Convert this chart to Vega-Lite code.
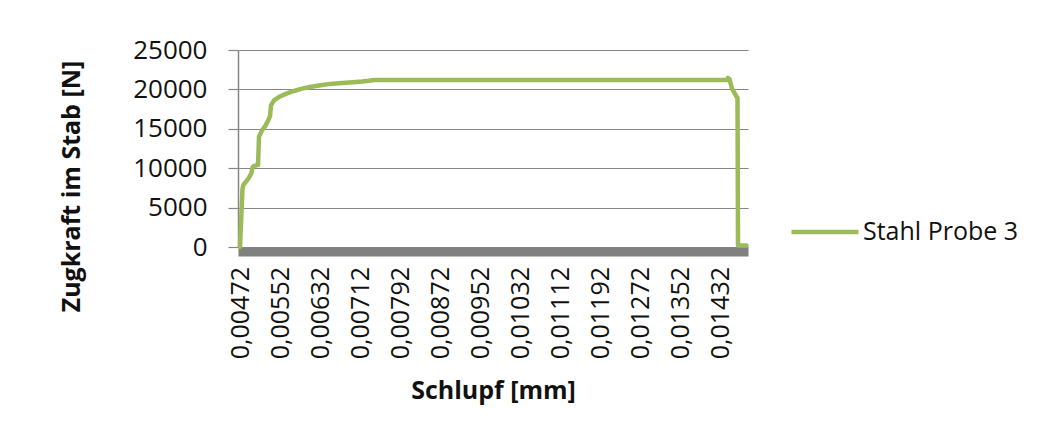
{
  "$schema": "https://vega.github.io/schema/vega-lite/v6.json",
  "width": 510,
  "height": 197,
  "autosize": {"type": "none"},
  "padding": {"left": 238, "top": 50, "right": 302, "bottom": 198},
  "background": "white",
  "config": {"view": {"stroke": null}, "font": "Open Sans"},
  "data": {
    "values": [
      {"schlupf": 0.00472, "kraft": 0, "serie": "Stahl Probe 3"},
      {"schlupf": 0.00477, "kraft": 7400, "serie": "Stahl Probe 3"},
      {"schlupf": 0.00479, "kraft": 7900, "serie": "Stahl Probe 3"},
      {"schlupf": 0.00484, "kraft": 8300, "serie": "Stahl Probe 3"},
      {"schlupf": 0.00490, "kraft": 8800, "serie": "Stahl Probe 3"},
      {"schlupf": 0.00495, "kraft": 9400, "serie": "Stahl Probe 3"},
      {"schlupf": 0.00497, "kraft": 10100, "serie": "Stahl Probe 3"},
      {"schlupf": 0.00500, "kraft": 10300, "serie": "Stahl Probe 3"},
      {"schlupf": 0.00508, "kraft": 10400, "serie": "Stahl Probe 3"},
      {"schlupf": 0.00510, "kraft": 14000, "serie": "Stahl Probe 3"},
      {"schlupf": 0.00516, "kraft": 14800, "serie": "Stahl Probe 3"},
      {"schlupf": 0.00522, "kraft": 15300, "serie": "Stahl Probe 3"},
      {"schlupf": 0.00528, "kraft": 16000, "serie": "Stahl Probe 3"},
      {"schlupf": 0.00532, "kraft": 16600, "serie": "Stahl Probe 3"},
      {"schlupf": 0.00534, "kraft": 18000, "serie": "Stahl Probe 3"},
      {"schlupf": 0.00540, "kraft": 18600, "serie": "Stahl Probe 3"},
      {"schlupf": 0.00552, "kraft": 19100, "serie": "Stahl Probe 3"},
      {"schlupf": 0.00566, "kraft": 19500, "serie": "Stahl Probe 3"},
      {"schlupf": 0.00580, "kraft": 19800, "serie": "Stahl Probe 3"},
      {"schlupf": 0.00596, "kraft": 20100, "serie": "Stahl Probe 3"},
      {"schlupf": 0.00612, "kraft": 20300, "serie": "Stahl Probe 3"},
      {"schlupf": 0.00630, "kraft": 20500, "serie": "Stahl Probe 3"},
      {"schlupf": 0.00652, "kraft": 20700, "serie": "Stahl Probe 3"},
      {"schlupf": 0.00676, "kraft": 20800, "serie": "Stahl Probe 3"},
      {"schlupf": 0.00698, "kraft": 20900, "serie": "Stahl Probe 3"},
      {"schlupf": 0.00716, "kraft": 21000, "serie": "Stahl Probe 3"},
      {"schlupf": 0.00730, "kraft": 21100, "serie": "Stahl Probe 3"},
      {"schlupf": 0.00740, "kraft": 21200, "serie": "Stahl Probe 3"},
      {"schlupf": 0.01446, "kraft": 21200, "serie": "Stahl Probe 3"},
      {"schlupf": 0.01448, "kraft": 21450, "serie": "Stahl Probe 3"},
      {"schlupf": 0.01451, "kraft": 21300, "serie": "Stahl Probe 3"},
      {"schlupf": 0.01456, "kraft": 20100, "serie": "Stahl Probe 3"},
      {"schlupf": 0.01464, "kraft": 19200, "serie": "Stahl Probe 3"},
      {"schlupf": 0.01467, "kraft": 18900, "serie": "Stahl Probe 3"},
      {"schlupf": 0.01468, "kraft": 200, "serie": "Stahl Probe 3"},
      {"schlupf": 0.01485, "kraft": 200, "serie": "Stahl Probe 3"}
    ]
  },
  "mark": {"type": "line", "strokeWidth": 4.5, "strokeJoin": "round", "strokeCap": "round"},
  "encoding": {
    "x": {
      "field": "schlupf",
      "type": "quantitative",
      "scale": {"domain": [0.00468, 0.01488], "nice": false, "zero": false},
      "axis": {
        "values": [0.00472, 0.00552, 0.00632, 0.00712, 0.00792, 0.00872, 0.00952, 0.01032, 0.01112, 0.01192, 0.01272, 0.01352, 0.01432],
        "labelExpr": "replace(format(datum.value, '.5f'), '.', ',')",
        "labelAngle": 270,
        "labelAlign": "right",
        "labelBaseline": "middle",
        "labelFontSize": 25,
        "labelColor": "#111111",
        "labelOverlap": false,
        "labelFlush": false,
        "ticks": false,
        "tickSize": 0,
        "domainColor": "#808080",
        "domainWidth": 9,
        "offset": 4.5,
        "labelPadding": 15,
        "grid": false,
        "title": "Schlupf [mm]",
        "titleFontSize": 25,
        "titleFontWeight": "bold",
        "titleColor": "#111111",
        "titlePadding": 20
      }
    },
    "y": {
      "field": "kraft",
      "type": "quantitative",
      "scale": {"domain": [0, 25000], "nice": false},
      "axis": {
        "values": [0, 5000, 10000, 15000, 20000, 25000],
        "format": "d",
        "labelFontSize": 26,
        "labelColor": "#111111",
        "tickSize": 10,
        "tickColor": "#868686",
        "tickWidth": 1.2,
        "labelPadding": 21,
        "domainColor": "#868686",
        "domainWidth": 1.5,
        "grid": true,
        "gridColor": "#868686",
        "gridWidth": 1.2,
        "title": "Zugkraft im Stab [N]",
        "titleFontSize": 25,
        "titleFontWeight": "bold",
        "titleColor": "#111111",
        "titlePadding": 48,
        "titleY": 136
      }
    },
    "color": {
      "field": "serie",
      "type": "nominal",
      "scale": {"range": ["#9BBB59"]},
      "legend": {
        "title": null,
        "orient": "none",
        "legendX": 551,
        "legendY": 146,
        "padding": 0,
        "symbolType": "stroke",
        "symbolSize": 4489,
        "symbolStrokeWidth": 4.5,
        "labelFontSize": 25,
        "labelColor": "#111111",
        "labelOffset": 2
      }
    }
  }
}
